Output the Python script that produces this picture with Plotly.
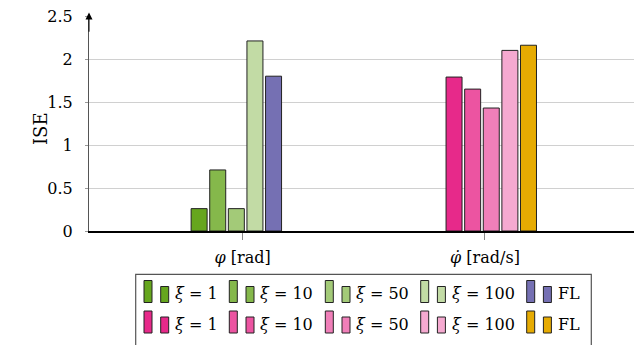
import plotly.graph_objects as go

# ISE per controller setting, for the angle and the angular rate
categories = ["<i>φ</i> [rad]", "<i>φ̇</i> [rad/s]"]
legend_labels = ["<i>ξ</i> = 1", "<i>ξ</i> = 10", "<i>ξ</i> = 50", "<i>ξ</i> = 100", "FL"]
ise_phi = [0.26, 0.71, 0.26, 2.21, 1.80]
ise_phidot = [1.79, 1.65, 1.43, 2.10, 2.16]

colors_phi = ["#66a61e", "#85b84b", "#a3ca78", "#c2dba5", "#7570b3"]
colors_phidot = ["#e7298a", "#ec54a1", "#f07fb9", "#f5a9d0", "#e6ab02"]

W, H = 634, 345
L, R, T, B = 89, 0, 16, 114
X0, X1 = -0.634, 1.615
FONT = "DejaVu Serif"
FS = 16

bar_w = 0.066
step = 0.0768
group_shift = [-0.026, 0.026]

fig = go.Figure()
for g, (vals, cols) in enumerate([(ise_phi, colors_phi), (ise_phidot, colors_phidot)]):
    for i, (v, c) in enumerate(zip(vals, cols)):
        center = group_shift[g] + (i - 2) * step
        fig.add_trace(go.Bar(
            x=[categories[g]], y=[v],
            width=bar_w, offset=center - bar_w / 2,
            marker=dict(color=c, line=dict(color="#222222", width=1)),
            showlegend=False, hoverinfo="skip",
        ))

fig.update_layout(
    width=W, height=H,
    margin=dict(l=L, r=R, t=T, b=B),
    barmode="overlay",
    plot_bgcolor="white", paper_bgcolor="white",
    font=dict(family=FONT, size=FS, color="black"),
)
fig.update_xaxes(
    type="category", range=[X0, X1],
    showline=True, linecolor="black", linewidth=1.5,
    ticks="outside", ticklen=7, tickcolor="#888888", tickwidth=1,
    showgrid=False, zeroline=False, ticklabelstandoff=4,
    tickfont=dict(family=FONT, size=FS),
)
fig.update_yaxes(
    range=[0, 2.5], tickvals=[0, 0.5, 1, 1.5, 2, 2.5],
    ticktext=["0", "0.5", "1", "1.5", "2", "2.5"],
    showline=True, linecolor="#555555", linewidth=1,
    ticks="outside", ticklen=3, tickcolor="#999999",
    showgrid=True, gridcolor="#d0d0d0", gridwidth=1,
    zeroline=False, ticklabelstandoff=9,
    tickfont=dict(family=FONT, size=FS),
)

# y axis arrow tip
fig.add_annotation(
    x=X0, y=2.54, ax=X0, ay=2.3, xref="x", yref="y", axref="x", ayref="y",
    text="", showarrow=True, arrowhead=2, arrowsize=1.4, arrowwidth=1,
    arrowcolor="black",
)

# y axis title
fig.add_annotation(
    text="ISE", textangle=-90, xref="paper", yref="paper",
    x=(40 - L) / (W - L - R), y=(H - B - 129) / (H - T - B),
    xanchor="center", yanchor="middle", showarrow=False,
    font=dict(family=FONT, size=18),
)

# hand-built legend box
def px(x):
    return (x - L) / (W - L - R)

def py(y):
    return (H - B - y) / (H - T - B)

fig.add_shape(type="rect", xref="paper", yref="paper",
              x0=px(135.7), x1=px(591.3), y0=py(274.3), y1=py(360),
              line=dict(color="#555555", width=1.2), fillcolor="white", layer="above")

entry_x = [144, 229.3, 325.3, 420.7, 526.7]
row_top = [280.5, 311]
for r, cols in enumerate([colors_phi, colors_phidot]):
    t = row_top[r]
    for k, (ex, c) in enumerate(zip(entry_x, cols)):
        fig.add_shape(type="rect", xref="paper", yref="paper",
                      x0=px(ex), x1=px(ex + 8), y0=py(t + 22), y1=py(t),
                      line=dict(color="#222222", width=1), fillcolor=c, layer="above")
        fig.add_shape(type="rect", xref="paper", yref="paper",
                      x0=px(ex + 16.7), x1=px(ex + 24.7), y0=py(t + 22), y1=py(t + 6),
                      line=dict(color="#222222", width=1), fillcolor=c, layer="above")
        fig.add_annotation(
            text=legend_labels[k], xref="paper", yref="paper",
            x=px(ex + 29), y=py(t + 13), xanchor="left", yanchor="middle",
            showarrow=False, font=dict(family=FONT, size=FS),
        )

fig.write_html("out.html")
